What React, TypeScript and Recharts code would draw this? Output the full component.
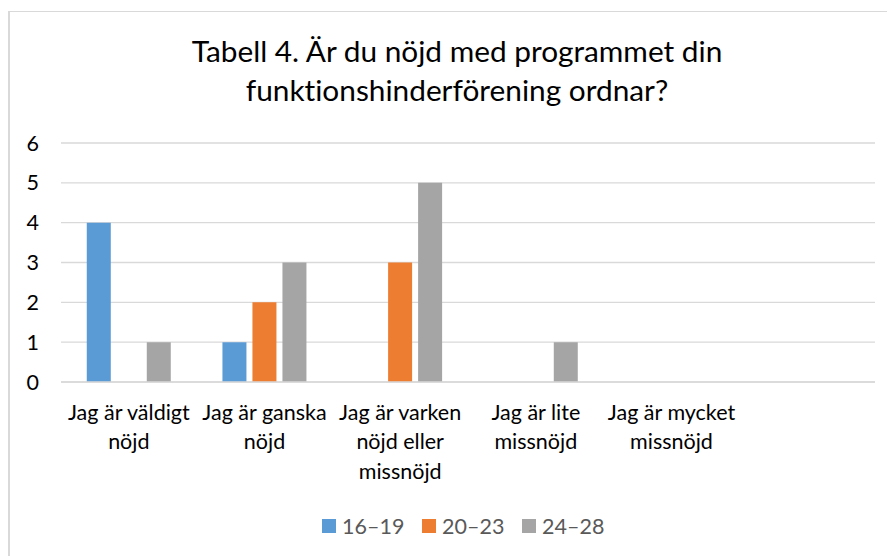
import React from "react";
import { BarChart, Bar, XAxis, YAxis, CartesianGrid } from "recharts";

const titleLines = ["Tabell 4. Är du nöjd med programmet din", "funktionshinderförening ordnar?"];
const categories = [
  "Jag är väldigt\nnöjd",
  "Jag är ganska\nnöjd",
  "Jag är varken\nnöjd eller\nmissnöjd",
  "Jag är lite\nmissnöjd",
  "Jag är mycket\nmissnöjd",
  "",
];
const seriesNames = ["16–19", "20–23", "24–28"];
const values1619 = [4, 1, 0, 0, 0, 0];
const values2023 = [0, 2, 3, 0, 0, 0];
const values2428 = [1, 3, 5, 1, 0, 0];
const seriesColors = ["#5B9BD5", "#ED7D31", "#A5A5A5"];
const yTicks = [0, 1, 2, 3, 4, 5, 6];

const data = categories.map((c, i) => ({
  cat: c,
  s0: values1619[i],
  s1: values2023[i],
  s2: values2428[i],
}));

const FONT = "Lato, 'Open Sans', sans-serif";
const W = 887;
const H = 548;

const XTick = (props: any) => {
  const { x, y, payload } = props;
  const lines = String(payload.value).split("\n");
  return (
    <g>
      {lines.map((ln: string, i: number) => (
        <text
          key={i}
          x={x}
          y={y + 37.5 + i * 29.5}
          textAnchor="middle"
          fontFamily={FONT}
          fontSize={21.5}
          fill="#000000"
          style={{ fontVariantLigatures: "none" }}
        >
          {ln}
        </text>
      ))}
    </g>
  );
};

export default function App() {
  return (
    <div style={{ position: "relative", width: W, height: H, background: "#fff" }}>
      <BarChart
        width={W}
        height={H}
        data={data}
        margin={{ top: 135, right: 20, bottom: 0, left: 0 }}
        barCategoryGap="19%"
        barGap={6}
      >
        <CartesianGrid vertical={false} stroke="#D9D9D9" strokeWidth={1.3} />
        <XAxis
          dataKey="cat"
          interval={0}
          height={174}
          tickLine={false}
          tickSize={0}
          tickMargin={0}
          axisLine={{ stroke: "#D9D9D9", strokeWidth: 1.3 }}
          tick={<XTick />}
        />
        <YAxis
          width={53}
          domain={[0, 6]}
          ticks={yTicks}
          interval={0}
          axisLine={false}
          tickLine={false}
          tickSize={0}
          tickMargin={22}
          tick={{ fontFamily: FONT, fontSize: 21.5, fill: "#000000" }}
        />
        {["s0", "s1", "s2"].map((k, i) => (
          <Bar key={k} dataKey={k} name={seriesNames[i]} fill={seriesColors[i]} isAnimationActive={false} />
        ))}
      </BarChart>
      <svg
        width={W}
        height={H}
        style={{ position: "absolute", left: 0, top: 0, pointerEvents: "none" }}
      >
        <line x1={1} y1={3} x2={1} y2={H} stroke="#D9D9D9" strokeWidth={2} />
        <line x1={0} y1={3.5} x2={W} y2={3.5} stroke="#D9D9D9" strokeWidth={1} />
        {titleLines.map((t, i) => (
          <text
            key={i}
            x={449}
            y={54 + i * 39}
            textAnchor="middle"
            fontFamily={FONT}
            fontSize={29.8}
            fill="#000000"
            style={{ fontVariantLigatures: "none" }}
          >
            {t}
          </text>
        ))}
      </svg>
      <div
        style={{
          position: "absolute",
          left: 314,
          top: 506,
          display: "flex",
          fontFamily: FONT,
          fontSize: 21.5,
          color: "#595959",
          lineHeight: "24px",
          whiteSpace: "nowrap",
        }}
      >
        {seriesNames.map((n, i) => (
          <div key={n} style={{ width: 100, display: "flex", alignItems: "center" }}>
            <span
              style={{
                display: "inline-block",
                width: 14,
                height: 14,
                background: seriesColors[i],
                marginRight: 6,
              }}
            />
            <span>{n}</span>
          </div>
        ))}
      </div>
    </div>
  );
}
